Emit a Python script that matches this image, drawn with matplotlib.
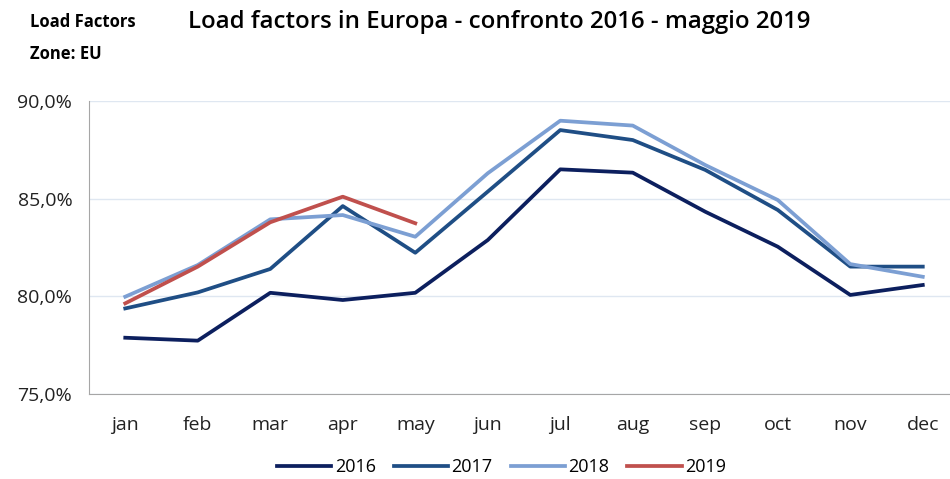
import matplotlib.pyplot as plt
from matplotlib.ticker import FuncFormatter

months = ['jan', 'feb', 'mar', 'apr', 'may', 'jun', 'jul', 'aug', 'sep', 'oct', 'nov', 'dec']
lf_2016 = [77.88, 77.73, 80.18, 79.81, 80.18, 82.88, 86.5, 86.33, 84.33, 82.54, 80.07, 80.58]
lf_2017 = [79.38, 80.2, 81.4, 84.62, 82.23, 85.36, 88.51, 88.0, 86.47, 84.42, 81.52, 81.52]
lf_2018 = [79.98, 81.6, 83.94, 84.16, 83.05, 86.3, 88.99, 88.74, 86.72, 84.93, 81.65, 81.0]
lf_2019 = [79.64, 81.52, 83.79, 85.1, 83.74]

plt.rcParams['font.family'] = ['Open Sans', 'DejaVu Sans']

fig = plt.figure(figsize=(9.5, 4.79), dpi=100)
ax = fig.add_axes([0.0937, 0.1775, 0.9158, 0.6117])

x = list(range(len(months)))
ax.plot(x, lf_2016, color='#0c1f5e', lw=2.7, label='2016')
ax.plot(x, lf_2017, color='#1f4e85', lw=2.7, label='2017')
ax.plot(x, lf_2018, color='#7c9fd3', lw=2.7, label='2018')
ax.plot(x[:len(lf_2019)], lf_2019, color='#c0504d', lw=2.7, label='2019')

ax.set_xlim(-0.5, 11.5)
ax.set_ylim(75, 90)
ax.set_yticks([75, 80, 85, 90])
ax.yaxis.set_major_formatter(FuncFormatter(lambda v, p: f'{v:.1f}%'.replace('.', ',')))
ax.set_xticks(x)
ax.set_xticklabels(months)
ax.grid(axis='y', color='#dfe7f1', lw=1)
ax.set_axisbelow(True)
for s in ['top', 'right']:
    ax.spines[s].set_visible(False)
for s in ['left', 'bottom']:
    ax.spines[s].set_color('#a6a6a6')
ax.tick_params(length=0, labelsize=14, colors='#222222')
ax.tick_params(axis='y', pad=12)
ax.tick_params(axis='x', pad=16)

fig.text(0.032, 0.955, 'Load Factors', fontsize=12, fontweight='bold', va='center')
fig.text(0.032, 0.888, 'Zone: EU', fontsize=12, fontweight='bold', va='center')
fig.text(0.525, 0.955, 'Load factors in Europa - confronto 2016 - maggio 2019', fontsize=17.3,
         fontweight='semibold', ha='center', va='center')

fig.legend(loc='center', bbox_to_anchor=(0.528, 0.025), ncol=4, frameon=False, fontsize=13,
           handlelength=3.0, handletextpad=0.2, columnspacing=1.0)

fig.savefig('out.png', dpi=100)
